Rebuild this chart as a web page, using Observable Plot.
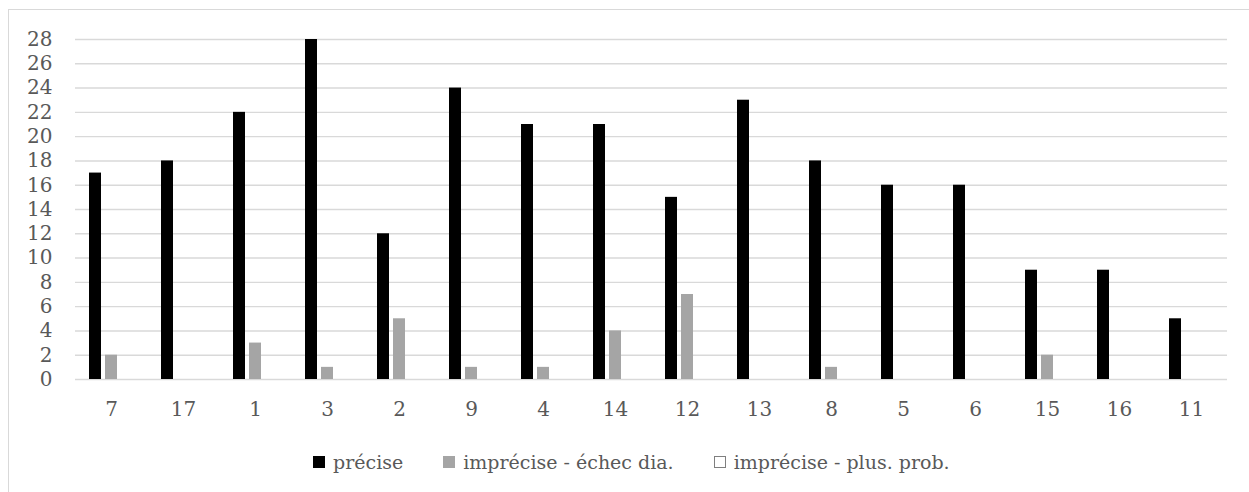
<!DOCTYPE html>
<html>
<head>
<meta charset="utf-8">
<script src="https://cdn.jsdelivr.net/npm/d3@7"></script>
<script src="https://cdn.jsdelivr.net/npm/@observablehq/plot@0.6"></script>
<style>
  html, body { margin: 0; padding: 0; background: #fff; }
  body { width: 1249px; height: 492px; position: relative; overflow: hidden; font-family: "DejaVu Serif", "Liberation Serif", serif; }
  #frame { position: absolute; left: 8px; top: 9px; width: 1300px; height: 600px; border: 1.5px solid #d9d9d9; box-sizing: border-box; }
  #chart { position: absolute; left: 0; top: 0; }
  #legend { position: absolute; left: 313px; top: 451px; display: flex; align-items: center; font-size: 19px; color: #595959; white-space: nowrap; }
  .item { display: flex; align-items: center; margin-right: 40px; }
  .sw { width: 12px; height: 12px; margin-right: 8px; box-sizing: border-box; }
</style>
</head>
<body>
<div id="frame"></div>
<div id="chart"></div>
<div id="legend"></div>
<script>
const categories = ["7","17","1","3","2","9","4","14","12","13","8","5","6","15","16","11"];
const seriesNames = ["précise", "imprécise - échec dia.", "imprécise - plus. prob."];
const precise = [17,18,22,28,12,24,21,21,15,23,18,16,16,9,9,5];
const echec = [2,0,3,1,5,1,1,4,7,0,1,0,0,2,0,0];
const plusProb = [0,0,0,0,0,0,0,0,0,0,0,0,0,0,0,0];
const yTicks = [0,2,4,6,8,10,12,14,16,18,20,22,24,26,28];
const colors = ["#000000", "#a5a5a5", "#ffffff"];

const seriesValues = [precise, echec, plusProb];
const data = [];
categories.forEach((c, i) => {
  seriesNames.forEach((s, j) => data.push({cat: c, series: s, value: seriesValues[j][i]}));
});

const chart = Plot.plot({
  width: 1249,
  height: 424,
  marginLeft: 75,
  marginRight: 22,
  marginTop: 39,
  marginBottom: 45,
  style: {fontFamily: "'DejaVu Serif', 'Liberation Serif', serif", fontSize: "20px", color: "#595959", background: "transparent"},
  fx: {domain: categories, paddingInner: 0, paddingOuter: 0, label: null},
  x: {domain: seriesNames, paddingInner: 0.22, paddingOuter: 0.86, axis: null},
  y: {domain: [0, 28], label: null},
  color: {domain: seriesNames, range: colors},
  marks: [
    Plot.ruleY(yTicks, {stroke: "#d9d9d9", strokeWidth: 1.4, strokeOpacity: 1}),
    Plot.axisY({ticks: yTicks, tickSize: 0, tickPadding: 23, label: null, fill: "#595959"}),
    Plot.axisFx({anchor: "bottom", tickSize: 0, tickPadding: 22, label: null, fill: "#595959"}),
    Plot.barY(data.filter(d => d.value > 0), {fx: "cat", x: "series", y: "value", fill: "series"})
  ]
});
document.getElementById("chart").appendChild(chart);

const legend = document.getElementById("legend");
seriesNames.forEach((s, j) => {
  const item = document.createElement("div");
  item.className = "item";
  const sw = document.createElement("div");
  sw.className = "sw";
  sw.style.background = colors[j];
  if (j === 2) sw.style.border = "1.5px solid #7f7f7f";
  const t = document.createElement("span");
  t.textContent = s;
  item.appendChild(sw);
  item.appendChild(t);
  legend.appendChild(item);
});
</script>
</body>
</html>
